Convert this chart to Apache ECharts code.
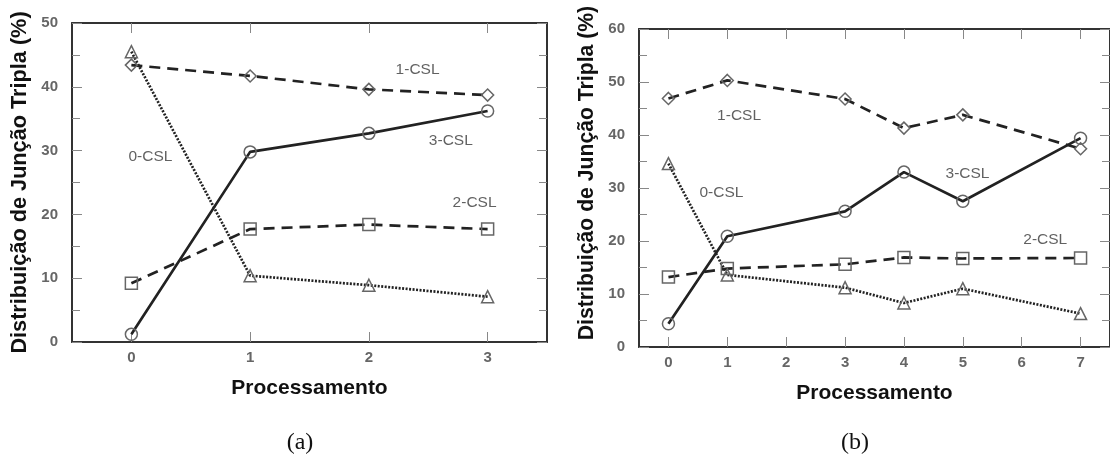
<!DOCTYPE html>
<html>
<head>
<meta charset="utf-8">
<script src="https://cdn.jsdelivr.net/npm/echarts@6/dist/echarts.min.js"></script>
<style>
  html, body { margin: 0; padding: 0; background: #fff; }
  #main { width: 1110px; height: 459px; }
</style>
</head>
<body>
<div id="main"></div>
<script>
// (a) processamento 0..3
var procA = ['0', '1', '2', '3'];
var csl0A = [45.5, 10.4, 8.9, 7.1];
var csl1A = [43.4, 41.7, 39.6, 38.7];
var csl2A = [9.2, 17.7, 18.4, 17.7];
var csl3A = [1.2, 29.8, 32.7, 36.2];

// (b) processamento 0..7 (sem 2 e 6)
var procB = ['0', '1', '2', '3', '4', '5', '6', '7'];
var xB = ['0', '1', '3', '4', '5', '7'];
var csl0B = [34.6, 13.6, 11.2, 8.3, 11.0, 6.3];
var csl1B = [46.9, 50.3, 46.8, 41.3, 43.8, 37.4];
var csl2B = [13.2, 14.8, 15.6, 16.9, 16.7, 16.8];
var csl3B = [4.4, 20.9, 25.6, 33.0, 27.5, 39.4];

// rotulos das curvas (coordenadas de dados)
var labelNames = ['0-CSL', '1-CSL', '2-CSL', '3-CSL'];
var labelPosA = [[0.16, 29.0], [2.41, 42.6], [2.89, 21.8], [2.69, 31.6]];
var labelPosB = [[0.9, 29.2], [1.2, 43.6], [6.4, 20.3], [5.08, 32.7]];

var font = "'Liberation Sans', Arial, sans-serif";
var ink = '#222';

function pairs(xs, ys) {
    return ys.map(function (v, i) { return [xs[i], v]; });
}

function lineSeries(name, data, idx, symbol, lineType, size) {
    return {
        name: name,
        type: 'line',
        xAxisIndex: idx,
        yAxisIndex: idx,
        data: data,
        symbol: symbol,
        symbolSize: size,
        showSymbol: true,
        z: 3,
        lineStyle: { color: ink, width: 2.7, type: lineType },
        itemStyle: { color: 'rgba(255,255,255,0)', borderColor: '#666', borderWidth: 1.5 },
        emphasis: { disabled: true }
    };
}

function labelSeries(pos, xIdx, yIdx) {
    return {
        type: 'scatter',
        xAxisIndex: xIdx,
        yAxisIndex: yIdx,
        symbolSize: 0,
        silent: true,
        data: pos.map(function (p, i) { return { value: p, name: labelNames[i] }; }),
        label: {
            show: true,
            position: 'inside',
            formatter: '{b}',
            color: '#3a3a3a',
            fontFamily: font,
            fontSize: 15.5
        }
    };
}

function catAxis(data, grid, pos, showLabel, name) {
    return {
        type: 'category',
        gridIndex: grid,
        position: pos,
        data: data,
        boundaryGap: true,
        name: name,
        nameLocation: 'middle',
        nameGap: 36,
        nameTextStyle: { fontFamily: font, fontSize: 21, fontWeight: 'bold', color: '#111' },
        axisLine: { show: true, onZero: false, lineStyle: { color: '#333', width: 2 } },
        axisTick: { show: true, inside: true, alignWithLabel: true, length: 10, lineStyle: { color: '#888', width: 1 } },
        axisLabel: { show: showLabel, color: '#666', fontFamily: font, fontSize: 15, fontWeight: 'bold', margin: 8 },
        splitLine: { show: false }
    };
}

function valAxis(max, grid, pos, showLabel, name, size, pad) {
    return {
        type: 'value',
        gridIndex: grid,
        position: pos,
        min: 0,
        max: max,
        interval: 10,
        name: name,
        nameLocation: 'middle',
        nameGap: 41,
        nameTextStyle: { fontFamily: font, fontSize: size, fontWeight: 'bold', color: '#111', padding: pad },
        axisLine: { show: true, onZero: false, lineStyle: { color: '#333', width: 2 } },
        axisTick: { show: true, inside: true, length: 10, lineStyle: { color: '#888', width: 1 } },
        minorTick: { show: true, splitNumber: 2, length: 8, lineStyle: { color: '#888', width: 1 } },
        axisLabel: { show: showLabel, color: '#666', fontFamily: font, fontSize: 15, fontWeight: 'bold', margin: 14 },
        splitLine: { show: false }
    };
}

function hiddenX(n, grid) {
    return { type: 'value', gridIndex: grid, min: -0.5, max: n - 0.5, show: false };
}

var yName = 'Distribuição de Junção Tripla (%)';

var option = {
    backgroundColor: '#fff',
    animation: false,
    grid: [
        { left: 72, top: 23, width: 475, height: 319 },
        { left: 639, top: 29, width: 474, height: 318 }
    ],
    xAxis: [
        catAxis(procA, 0, 'bottom', true, 'Processamento'),
        catAxis(procB, 1, 'bottom', true, 'Processamento'),
        catAxis(procA, 0, 'top', false, ''),
        catAxis(procB, 1, 'top', false, ''),
        hiddenX(procA.length, 0),
        hiddenX(procB.length, 1)
    ],
    yAxis: [
        valAxis(50, 0, 'left', true, yName, 21.7, [0, 0, 0, 0]),
        valAxis(60, 1, 'left', true, yName, 21.2, [0, 0, 0, 30]),
        valAxis(50, 0, 'right', false, '', 12, 0),
        valAxis(60, 1, 'right', false, '', 12, 0)
    ],
    graphic: [
        { type: 'text', x: 300, y: 443, style: { text: '(a)', font: "24px 'Liberation Serif', 'Times New Roman', serif", fill: '#111', textAlign: 'center', textVerticalAlign: 'middle' } },
        { type: 'text', x: 855, y: 443, style: { text: '(b)', font: "24px 'Liberation Serif', 'Times New Roman', serif", fill: '#111', textAlign: 'center', textVerticalAlign: 'middle' } }
    ],
    series: [
        lineSeries('0-CSL', pairs(procA, csl0A), 0, 'triangle', [2, 1.5], 12),
        lineSeries('1-CSL', pairs(procA, csl1A), 0, 'diamond', [11, 7], 12),
        lineSeries('2-CSL', pairs(procA, csl2A), 0, 'rect', [11, 7], 12),
        lineSeries('3-CSL', pairs(procA, csl3A), 0, 'circle', 'solid', 12),
        lineSeries('0-CSL', pairs(xB, csl0B), 1, 'triangle', [2, 1.5], 12),
        lineSeries('1-CSL', pairs(xB, csl1B), 1, 'diamond', [11, 7], 12),
        lineSeries('2-CSL', pairs(xB, csl2B), 1, 'rect', [11, 7], 12),
        lineSeries('3-CSL', pairs(xB, csl3B), 1, 'circle', 'solid', 12),
        labelSeries(labelPosA, 4, 0),
        labelSeries(labelPosB, 5, 1)
    ]
};

echarts.init(document.getElementById('main')).setOption(option);
</script>
</body>
</html>
